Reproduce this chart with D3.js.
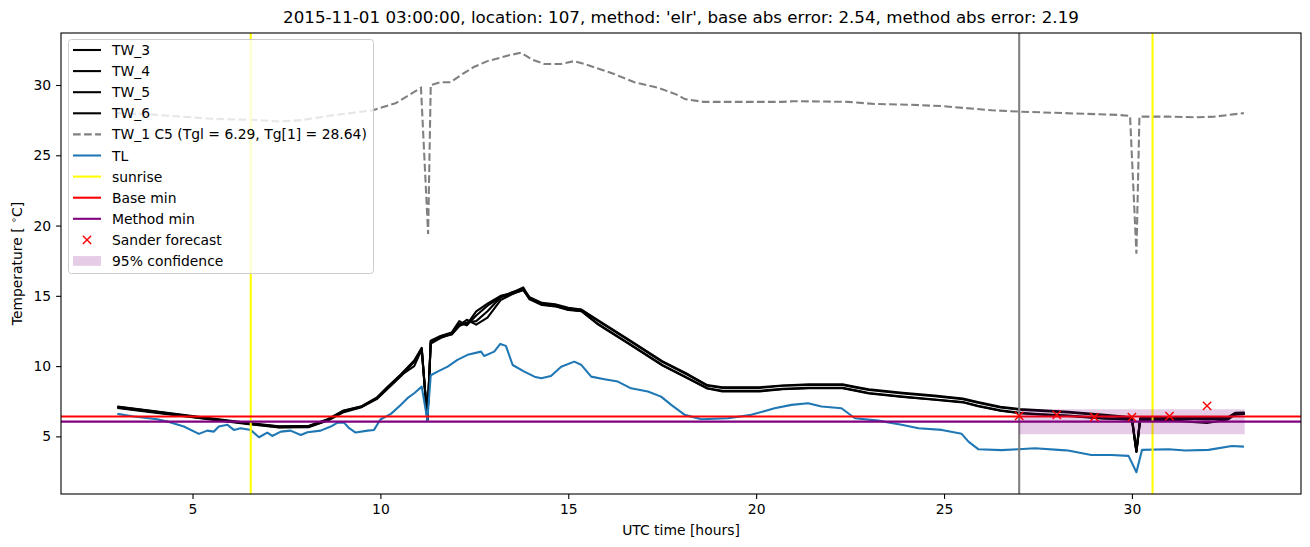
<!DOCTYPE html>
<html><head><meta charset="utf-8">
<script src="https://cdn.jsdelivr.net/npm/d3@7/dist/d3.min.js"></script>
<style>body{margin:0;background:#fff;} text{font-family:"DejaVu Sans",sans-serif;fill:#000;}</style>
</head><body><svg id="c" width="1310" height="547"></svg>
<script>
const titleText = "2015-11-01 03:00:00, location: 107, method: 'elr', base abs error: 2.54, method abs error: 2.19";
const xTicks = [5, 10, 15, 20, 25, 30];
const yTicks = [5, 10, 15, 20, 25, 30];

const twHours = [3.0,3.9,5.0,6.5,7.3,8.1,8.6,9.0,9.5,9.9,10.2,10.55,10.9,11.1,11.25,11.34,11.6,11.9,12.1,12.3,12.55,12.85,13.2,13.5,13.8,13.97,14.3,14.65,15.0,15.35,15.8,16.6,17.5,18.2,18.7,19.1,20.1,20.7,21.4,22.3,22.7,23.0,23.9,24.75,25.5,25.9,26.5,27.0,27.6,28.3,29.2,30.0,30.12,30.22,31.0,31.5,32.0,32.55,32.75,33.0];
const tw3 = [7.1,6.8,6.42,5.92,5.7,5.72,6.2,6.8,7.12,7.72,8.5,9.4,10.35,11.25,6.2,11.75,12.1,12.35,13.0,12.95,13.9,14.45,15.0,15.2,15.6,14.85,14.45,14.35,14.1,14.0,13.2,11.85,10.3,9.35,8.6,8.45,8.45,8.6,8.65,8.65,8.45,8.3,8.05,7.85,7.65,7.4,7.05,6.9,6.8,6.7,6.5,6.3,3.95,6.25,6.25,6.3,6.3,6.3,6.65,6.65];
const tw4 = [7.05,6.75,6.38,5.9,5.66,5.68,6.15,6.75,7.1,7.68,8.45,9.35,10.0,11.2,6.2,11.6,12.0,12.3,12.9,13.3,12.95,13.45,14.7,15.1,15.45,14.75,14.35,14.25,14.0,13.9,12.95,11.6,10.05,9.1,8.4,8.2,8.2,8.35,8.42,8.42,8.22,8.05,7.8,7.6,7.42,7.15,6.82,6.65,6.55,6.45,6.28,6.18,3.9,6.15,6.15,6.05,5.95,6.2,6.55,6.6];
const tw5 = [7.12,6.82,6.45,5.95,5.72,5.75,6.22,6.82,7.15,7.75,8.55,9.42,10.4,11.3,6.2,11.8,12.15,12.4,13.2,12.9,13.6,14.3,14.9,15.25,15.5,14.9,14.5,14.4,14.15,14.02,13.25,11.9,10.35,9.4,8.65,8.5,8.5,8.62,8.7,8.7,8.5,8.35,8.1,7.9,7.7,7.45,7.1,6.95,6.85,6.75,6.55,6.35,4.0,6.3,6.3,6.35,6.32,6.35,6.68,6.7];
const tw6 = [7.02,6.72,6.36,5.87,5.64,5.66,6.12,6.7,7.08,7.65,8.4,9.3,10.3,11.15,6.15,11.7,12.05,12.25,12.85,13.1,13.2,13.9,14.9,15.15,15.4,14.8,14.38,14.28,14.03,13.92,12.98,11.63,10.08,9.13,8.43,8.24,8.24,8.38,8.45,8.45,8.25,8.08,7.83,7.63,7.45,7.18,6.85,6.68,6.58,6.48,6.3,6.2,3.9,6.2,6.2,6.25,6.2,6.25,6.6,6.62];

const tw1Hours = [3.0,3.9,5.5,6.8,7.3,7.9,8.6,9.8,10.4,11.08,11.27,11.34,11.6,11.87,12.14,12.5,12.85,13.4,13.74,14.05,14.36,14.81,15.16,15.43,16.2,16.76,17.4,17.9,18.1,18.6,20.7,21.0,22.45,23.15,24.05,24.94,26.27,27.07,29.65,29.95,30.12,30.2,30.98,31.7,32.2,32.98];
const tw1 = [28.0,27.9,27.6,27.5,27.4,27.5,27.8,28.2,28.7,29.8,19.4,30.0,30.2,30.2,30.7,31.3,31.7,32.1,32.3,31.8,31.5,31.5,31.7,31.5,30.8,30.2,29.8,29.3,29.0,28.8,28.8,28.85,28.8,28.65,28.6,28.5,28.2,28.1,27.87,27.8,18.0,27.75,27.75,27.7,27.75,28.0];

const tlHours = [3.0,3.44,4.06,4.33,4.77,5.17,5.39,5.57,5.7,5.93,6.1,6.28,6.55,6.77,6.99,7.12,7.35,7.61,7.88,8.06,8.41,8.68,8.86,9.03,9.17,9.34,9.66,9.83,10.0,10.28,10.54,10.72,10.9,11.1,11.25,11.34,11.52,11.79,12.05,12.32,12.68,12.76,13.03,13.19,13.34,13.52,13.83,14.1,14.28,14.54,14.81,15.16,15.34,15.61,15.96,16.32,16.67,17.12,17.47,17.74,18.1,18.54,19.25,19.87,20.49,20.94,21.38,21.74,22.27,22.63,23.25,23.87,24.32,24.94,25.47,25.65,25.91,26.53,26.98,27.42,28.14,28.3,28.92,29.45,29.91,30.12,30.27,30.98,31.42,32.04,32.66,32.98];
const tl = [6.6,6.41,6.22,6.05,5.7,5.18,5.41,5.34,5.7,5.82,5.46,5.58,5.46,4.94,5.27,5.03,5.34,5.41,5.1,5.29,5.41,5.7,5.98,5.98,5.58,5.27,5.41,5.46,6.2,6.6,7.24,7.72,8.07,8.54,6.17,9.35,9.61,9.96,10.44,10.8,11.03,10.72,11.03,11.58,11.44,10.08,9.61,9.25,9.13,9.3,9.96,10.32,10.1,9.25,9.07,8.9,8.42,8.19,7.83,7.24,6.53,6.22,6.29,6.53,7.0,7.24,7.36,7.12,7.0,6.29,6.12,5.82,5.58,5.46,5.18,4.63,4.09,4.02,4.09,4.16,4.02,3.99,3.68,3.68,3.61,2.45,4.04,4.09,3.99,4.04,4.32,4.27];

const sunrise = [6.55, 30.55];
const forecastStart = 27;
const baseMin = 6.42;
const methodMin = 6.05;
const sanderHours = [27, 28, 29, 30, 31, 32];
const sanderValues = [6.46, 6.53, 6.37, 6.37, 6.44, 7.17];
const confHours = [27, 33];
const confLow = [5.16, 5.16];
const confHigh = [6.93, 6.93];

const legendLabels = ["TW_3","TW_4","TW_5","TW_6","TW_1 C5 (Tgl = 6.29, Tg[1] = 28.64)","TL","sunrise","Base min","Method min","Sander forecast","95% confidence"];

const LW = 2.08, DASH = "7.7,3.33";
const L = 61, R = 1301, T = 33, B = 494;
const svg = d3.select("#c");
const x = d3.scaleLinear().domain([1.5, 34.5]).range([L, R]);
const y = d3.scaleLinear().domain([0.9, 33.7]).range([B, T]);

svg.append("defs").append("clipPath").attr("id","clip").append("rect")
  .attr("x",L).attr("y",T).attr("width",R-L).attr("height",B-T);
const g = svg.append("g").attr("clip-path","url(#clip)");

const line = d3.line().x(d=>x(d[0])).y(d=>y(d[1]));
const zip = (a,b)=>a.map((v,i)=>[v,b[i]]);

[tw3,tw4,tw5,tw6].forEach(s=>{
  g.append("path").datum(zip(twHours,s)).attr("d",line)
   .attr("fill","none").attr("stroke","#000").attr("stroke-width",LW).attr("stroke-linejoin","round");
});
g.append("path").datum(zip(tw1Hours,tw1)).attr("d",line)
  .attr("fill","none").attr("stroke","gray").attr("stroke-width",LW).attr("stroke-dasharray",DASH);
g.append("path").datum(zip(tlHours,tl)).attr("d",line)
  .attr("fill","none").attr("stroke","#1f77b4").attr("stroke-width",LW).attr("stroke-linejoin","round");

sunrise.forEach(h=>{
  g.append("line").attr("x1",x(h)).attr("x2",x(h)).attr("y1",T).attr("y2",B)
   .attr("stroke","yellow").attr("stroke-width",LW);
});
g.append("line").attr("x1",x(forecastStart)).attr("x2",x(forecastStart)).attr("y1",T).attr("y2",B)
   .attr("stroke","gray").attr("stroke-width",LW);
g.append("line").attr("x1",L).attr("x2",R).attr("y1",y(baseMin)).attr("y2",y(baseMin))
   .attr("stroke","red").attr("stroke-width",LW);
g.append("line").attr("x1",L).attr("x2",R).attr("y1",y(methodMin)).attr("y2",y(methodMin))
   .attr("stroke","purple").attr("stroke-width",LW);

const area = d3.area().x(d=>x(d[0])).y0(d=>y(d[1])).y1(d=>y(d[2]));
g.append("path").datum(confHours.map((h,i)=>[h,confLow[i],confHigh[i]])).attr("d",area)
  .attr("fill","purple").attr("fill-opacity",0.2);

const ms = 4.17;
sanderHours.forEach((h,i)=>{
  const cx = x(h), cy = y(sanderValues[i]);
  g.append("path").attr("d",`M${cx-ms},${cy-ms}L${cx+ms},${cy+ms}M${cx-ms},${cy+ms}L${cx+ms},${cy-ms}`)
   .attr("stroke","red").attr("stroke-width",1.4).attr("fill","none");
});

// axes
const xa = svg.append("g").attr("transform",`translate(0,${B})`)
  .call(d3.axisBottom(x).tickValues(xTicks).tickFormat(d3.format("d")).tickSize(4.9).tickPadding(4.9));
const ya = svg.append("g").attr("transform",`translate(${L},0)`)
  .call(d3.axisLeft(y).tickValues(yTicks).tickFormat(d3.format("d")).tickSize(4.9).tickPadding(4.9));
[xa,ya].forEach(a=>{
  a.select(".domain").remove();
  a.selectAll("line").attr("stroke","#000").attr("stroke-width",1.1);
  a.selectAll("text").attr("font-size","13.9px").attr("font-family","DejaVu Sans").attr("fill","#000");
});
svg.append("rect").attr("x",L).attr("y",T).attr("width",R-L).attr("height",B-T)
  .attr("fill","none").attr("stroke","#000").attr("stroke-width",1.1);

svg.append("text").attr("x",(L+R)/2).attr("y",23).attr("text-anchor","middle")
  .attr("font-size","16.7px").text(titleText);
svg.append("text").attr("x",(L+R)/2).attr("y",535).attr("text-anchor","middle")
  .attr("font-size","13.9px").text("UTC time [hours]");
const yl = svg.append("text").attr("transform",`translate(22,${(T+B)/2}) rotate(-90)`)
  .attr("text-anchor","middle").attr("font-size","13.9px");
yl.append("tspan").text("Temperature [ ");
yl.append("tspan").attr("font-size","9.7px").attr("dy","-5").text("∘");
yl.append("tspan").attr("dy","5").text("C]");

// legend
const lg = svg.append("g");
lg.append("rect").attr("x",68.5).attr("y",39.5).attr("width",305).attr("height",234).attr("rx",3)
  .attr("fill","#fff").attr("fill-opacity",0.8).attr("stroke","#cccccc").attr("stroke-width",1);
const styles = [
  {t:"line",c:"#000"},{t:"line",c:"#000"},{t:"line",c:"#000"},{t:"line",c:"#000"},
  {t:"dash",c:"gray"},{t:"line",c:"#1f77b4"},{t:"line",c:"yellow"},{t:"line",c:"red"},
  {t:"line",c:"purple"},{t:"x",c:"red"},{t:"patch",c:"purple"}];
legendLabels.forEach((lab,i)=>{
  const cy = 50 + i*21.1, s = styles[i];
  if (s.t==="line"||s.t==="dash") {
    const ln = lg.append("line").attr("x1",73).attr("x2",101).attr("y1",cy).attr("y2",cy)
      .attr("stroke",s.c).attr("stroke-width",LW);
    if (s.t==="dash") ln.attr("stroke-dasharray",DASH);
  } else if (s.t==="x") {
    const cx = 87;
    lg.append("path").attr("d",`M${cx-ms},${cy-ms}L${cx+ms},${cy+ms}M${cx-ms},${cy+ms}L${cx+ms},${cy-ms}`)
      .attr("stroke",s.c).attr("stroke-width",1.4);
  } else {
    lg.append("rect").attr("x",73).attr("y",cy-4.9).attr("width",28).attr("height",9.7)
      .attr("fill",s.c).attr("fill-opacity",0.2);
  }
  lg.append("text").attr("x",112).attr("y",cy+5).attr("font-size","13.9px").text(lab);
});
</script></body></html>
